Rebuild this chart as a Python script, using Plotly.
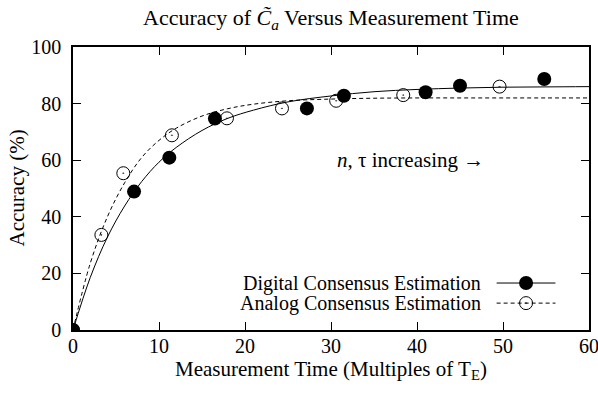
import plotly.graph_objects as go

# Measured accuracy points (measurement time in multiples of T_E, accuracy in %)
digital_t = [0, 7.1, 11.2, 16.5, 27.2, 31.5, 41.0, 45.0, 54.8]
digital_acc = [0, 48.9, 60.9, 74.7, 78.3, 82.8, 84.0, 86.3, 88.7]
analog_t = [0, 3.3, 5.85, 11.5, 17.9, 24.3, 30.6, 38.4, 49.6]
analog_acc = [0, 33.6, 55.4, 68.8, 74.8, 78.3, 81.0, 83.0, 86.0]

# Fitted trend curves
fit_t = [0, 2, 4, 6, 8, 10, 12, 15, 18, 21, 25, 30, 35, 40, 45, 50, 55, 60]
digital_fit = [0, 18.5, 32.8, 43.8, 52.5, 59.3, 64.5, 70.5, 74.8, 77.7, 80.6,
               82.7, 84.2, 85.0, 85.5, 85.8, 85.9, 86.0]
analog_fit = [0, 23.5, 40.0, 52.0, 61.0, 67.0, 71.3, 75.6, 78.2, 79.8, 81.0,
              81.6, 81.9, 82.0, 82.0, 82.0, 82.0, 82.0]

x_ticks = [0, 10, 20, 30, 40, 50, 60]
y_ticks = [0, 20, 40, 60, 80, 100]

FONT = "Liberation Serif"

fig = go.Figure()
fig.add_trace(go.Scatter(x=fit_t, y=analog_fit, mode="lines", line_shape="spline",
                         line=dict(color="black", width=1, dash="4px,3px"),
                         showlegend=False, hoverinfo="skip"))
fig.add_trace(go.Scatter(x=fit_t, y=digital_fit, mode="lines", line_shape="spline",
                         line=dict(color="black", width=1),
                         showlegend=False, hoverinfo="skip"))
fig.add_trace(go.Scatter(x=analog_t, y=analog_acc, mode="markers",
                         marker=dict(symbol="circle-open-dot", size=13, color="black",
                                     line=dict(width=1, color="black")),
                         showlegend=False))
fig.add_trace(go.Scatter(x=digital_t, y=digital_acc, mode="markers",
                         marker=dict(symbol="circle", size=14, color="black"),
                         showlegend=False))

axis_common = dict(showline=True, linecolor="black", linewidth=1.5, mirror="ticks",
                   ticks="inside", ticklen=8, tickwidth=1, tickcolor="black",
                   showgrid=False, zeroline=False, ticklabeloverflow="allow",
                   tickfont=dict(family=FONT, size=20, color="black"))

fig.update_xaxes(range=[0, 60], tickvals=x_ticks, ticklabelstandoff=-3, **axis_common)
fig.update_yaxes(range=[0, 100], tickvals=y_ticks, ticklabelstandoff=6, **axis_common)

# Key drawn in gnuplot style: right-justified text with sample to its right
key_rows = [("Digital Consensus Estimation", "solid", "circle"),
            ("Analog Consensus Estimation", "4px,3px", "circle-open-dot")]
shapes = []
annotations = []
key_y = [0.166, 0.095]
for (label, dash, sym), ky in zip(key_rows, key_y):
    annotations.append(dict(xref="paper", yref="paper", x=0.794, y=ky, text=label,
                            showarrow=False, xanchor="right", yanchor="middle",
                            font=dict(family=FONT, size=20, color="black")))
    shapes.append(dict(type="line", xref="paper", yref="paper",
                       x0=0.821, x1=0.935, y0=ky, y1=ky,
                       line=dict(color="black", width=1, dash=dash)))

fig.add_trace(go.Scatter(x=[0.878], y=[key_y[0]], xaxis="x2", yaxis="y2", mode="markers",
                         marker=dict(symbol="circle", size=14, color="black"),
                         showlegend=False, hoverinfo="skip"))
fig.add_trace(go.Scatter(x=[0.878], y=[key_y[1]], xaxis="x2", yaxis="y2", mode="markers",
                         marker=dict(symbol="circle-open-dot", size=13, color="black",
                                     line=dict(width=1, color="black")),
                         showlegend=False, hoverinfo="skip"))

annotations += [
    dict(xref="paper", yref="paper", x=0.5, y=1.0, yshift=28, yanchor="middle",
         text="Accuracy of <i>C\u0303</i><sub><i>a</i></sub> Versus Measurement Time",
         showarrow=False, font=dict(family=FONT, size=22, color="black")),
    dict(xref="paper", yref="paper", x=0.5, y=0, yshift=-40, yanchor="middle",
         text="Measurement Time (Multiples of T<sub>E</sub>)",
         showarrow=False, font=dict(family=FONT, size=21, color="black")),
    dict(xref="paper", yref="paper", x=0, xshift=-57, y=0.5, textangle=-90,
         text="Accuracy (%)", showarrow=False, xanchor="center",
         font=dict(family=FONT, size=21, color="black")),
    dict(x=39.3, y=60, text="<i>n</i>, \u03c4 increasing \u2192", showarrow=False,
         font=dict(family=FONT, size=21, color="black")),
]

fig.update_layout(
    width=598, height=393,
    margin=dict(l=73, r=9, t=47, b=63, autoexpand=False),
    paper_bgcolor="white", plot_bgcolor="white",
    showlegend=False,
    shapes=shapes, annotations=annotations,
    xaxis2=dict(range=[0, 1], overlaying="x", visible=False),
    yaxis2=dict(range=[0, 1], overlaying="y", visible=False),
)

fig.write_html("out.html")
